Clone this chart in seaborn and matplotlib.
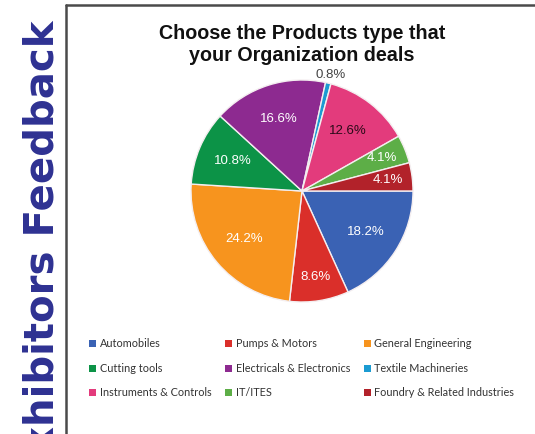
import seaborn as sns
import matplotlib.pyplot as plt
from matplotlib.patches import Patch
from matplotlib.lines import Line2D
import numpy as np

products = ['Automobiles', 'Pumps & Motors', 'General Engineering', 'Cutting tools',
            'Electricals & Electronics', 'Textile Machineries', 'Instruments & Controls',
            'IT/ITES', 'Foundry & Related Industries']
shares = [18.2, 8.6, 24.2, 10.8, 16.6, 0.8, 12.6, 4.1, 4.1]
colors = ['#3A62B4', '#DA2F2A', '#F7941E', '#0C9347', '#8D2A90', '#1B9BD2',
          '#E33B7C', '#5DAE47', '#B2222A']
label_colors = ['white', 'white', 'white', 'white', 'white', '#444444', '#2a0a18', 'white', 'white']

sns.set_theme(style='white')
plt.rcParams['font.family'] = ['Liberation Sans', 'DejaVu Sans']

W, H = 535, 434
fig = plt.figure(figsize=(W / 100, H / 100), dpi=100)

# pie axes: center (302,191) px, radius 111 px
cx, cy, r = 302, 191, 111
ax = fig.add_axes([(cx - r) / W, (H - cy - r) / H, 2 * r / W, 2 * r / H])
wedges, texts, autotexts = ax.pie(
    shares, colors=sns.color_palette(colors), startangle=0, counterclock=False,
    autopct='%.1f%%', pctdistance=0.68,
    wedgeprops=dict(edgecolor='#f4eef0', linewidth=1.0),
    textprops=dict(fontsize=9.5))
ax.set_xlim(-1, 1)
ax.set_ylim(-1, 1)
ax.axis('off')

for w, t, c, v in zip(wedges, autotexts, label_colors, shares):
    t.set_color(c)
    if v < 1:
        d = 1.08
    elif v < 10:
        d = 0.78
    else:
        continue
    ang = np.deg2rad((w.theta1 + w.theta2) / 2)
    t.set_position((d * np.cos(ang), d * np.sin(ang)))

# title
fig.text(cx / W, 1 - 24 / H, 'Choose the Products type that\nyour Organization deals',
         ha='center', va='top', fontsize=14.2, fontweight='bold', linespacing=1.18,
         color='#111111')

# frame lines
fig.add_artist(Line2D([66 / W, 66 / W], [0, 1 - 5 / H], color='#4a4a4a', lw=1.8))
fig.add_artist(Line2D([66 / W, 1], [1 - 5 / H, 1 - 5 / H], color='#4a4a4a', lw=1.8))

# side text (cut off at the bottom, like the source)
fig.text(43 / W, 1 - 20 / H, 'xhibitors Feedback', rotation=90, ha='center', va='top',
         fontsize=29, fontweight='bold', family='DejaVu Sans', color='#2E3192')

# legend, row-wise order
order = [0, 3, 6, 1, 4, 7, 2, 5, 8]
handles = [Patch(facecolor=colors[i], edgecolor='none', label=products[i]) for i in order]
leg = fig.legend(handles=handles, ncol=3, loc='upper left',
                 bbox_to_anchor=(84 / W, 1 - 333 / H), frameon=False,
                 prop={'family': 'Lato', 'size': 7.8}, handlelength=0.6, handleheight=0.6,
                 handletextpad=0.35, columnspacing=1.3, labelspacing=1.25, borderpad=0)
for t in leg.get_texts():
    t.set_color('#333333')

fig.savefig('out.png', dpi=100)
